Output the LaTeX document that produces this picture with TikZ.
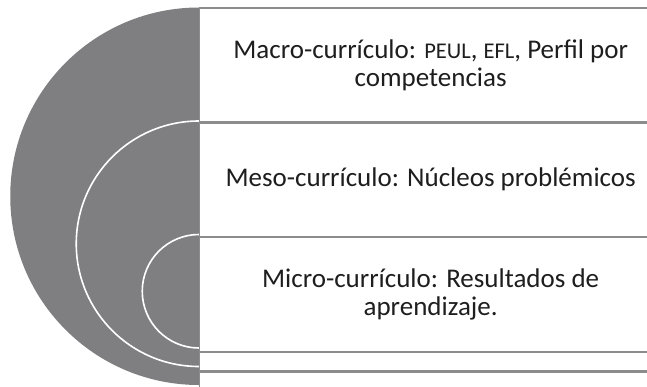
\documentclass[tikz,border=0pt]{standalone}
\usepackage{fontspec}
\setmainfont{Carlito}
\definecolor{disco}{RGB}{127,127,130}
\definecolor{borde}{RGB}{140,140,140}
\definecolor{letra}{RGB}{30,30,30}

\begin{document}
\begin{tikzpicture}[x=1pt,y=1pt,
    caja/.style={draw=borde,line width=1.3pt,fill=white,anchor=north west,
      minimum width=462pt,inner sep=0pt,align=center,text=letra,
      font=\fontsize{27}{28}\selectfont},
    arco/.style={draw=white,line width=1.6pt}]
  \useasboundingbox (0,0) rectangle (647,386);
  \clip (0,0) rectangle (647,386);
  % media luna de fondo
  \fill[disco] (199,378.5) arc (90:270:188.75) -- cycle;
  \draw[arco] (199,265) arc (90:270:122.75);
  \draw[arco] (199,151.5) arc (90:270:56.75);

  \node[caja,minimum height=113.5pt] (macro) at (199,378.5)
    {Macro-currículo: {\fontsize{22.5}{28}\selectfont PEUL}, {\fontsize{22.5}{28}\selectfont EFL}, Perfil por\\competencias};
  \node[caja,minimum height=113.5pt] (meso)  at (macro.south west) {Meso-currículo: Núcleos problémicos};
  \node[caja,minimum height=113.5pt] (micro) at (meso.south west)  {Micro-currículo: Resultados de\\aprendizaje.};
  \node[caja,minimum height=18.5pt]  (vacio1) at (micro.south west) {};
  \node[caja,minimum height=18.5pt]  (vacio2) at (vacio1.south west) {};
\end{tikzpicture}
\end{document}
